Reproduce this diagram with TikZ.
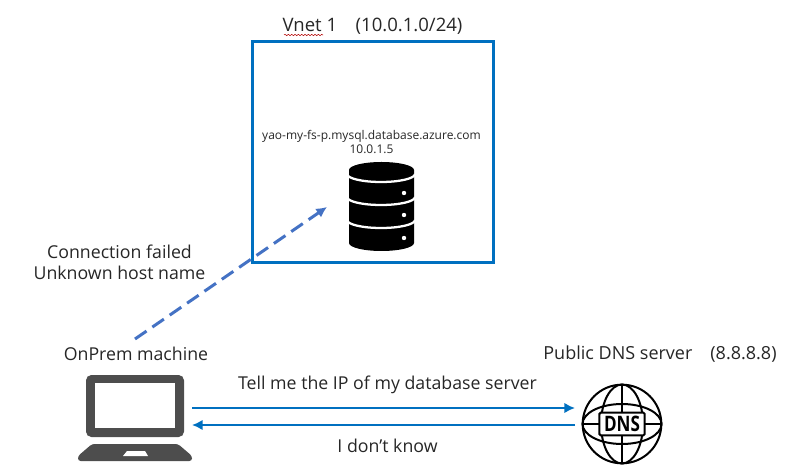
\documentclass[tikz,border=0pt]{standalone}
\usepackage{fontspec}
\setmainfont{Open Sans}
\usepackage{tikz}
\usetikzlibrary{arrows.meta,positioning,decorations.pathmorphing}
\definecolor{netblue}{HTML}{0070C0}
\definecolor{failblue}{HTML}{4472C4}
\definecolor{laptopgray}{HTML}{4D4D4D}
\tikzset{
  textlabel/.style={font=\fontsize{13.3}{15.6}\selectfont,text=black!85,align=center,inner sep=0pt},
  smalltext/.style={font=\fontsize{9}{10.5}\selectfont,text=black!85,align=center,inner sep=0pt},
  arrow/.style={-{Latex[length=8pt,width=8pt]},line width=2pt,netblue},
  failarrow/.style={-{Latex[length=8pt,width=8pt]},line width=2.25pt,failblue,dash pattern=on 10.5pt off 5.3pt},
  globe/.style={line width=1.5pt,black}
}

\begin{document}
\begin{tikzpicture}[x=0.75pt,y=-0.75pt]
  \useasboundingbox (0,0) rectangle (787,473);

  % Vnet
  \node[draw=netblue,line width=2.25pt,minimum width=180.75pt,minimum height=165.75pt,inner sep=0pt] (vnet) at (372.5,152.5) {};
  \node[textlabel,font=\fontsize{13.9}{15.6}\selectfont] (vnettitle) at (372.5,26) {Vnet 1\quad (10.0.1.0/24)};
  \draw[red!70!black,line width=0.4pt,decorate,decoration={snake,amplitude=0.5pt,segment length=2.5pt}] (284,35) -- (323,35);
  \node[smalltext] (dbname) at (371.5,142) {yao-my-fs-p.mysql.database.azure.com\\10.0.1.5};

  % Database icon
  \fill[black] (349,170) arc[x radius=32.5,y radius=8,start angle=180,end angle=360] -- (414,243) arc[x radius=32.5,y radius=8,start angle=0,end angle=180] -- cycle;
  \foreach \y in {174,197,220}
    \draw[white,line width=1.7pt] (347,\y) arc[x radius=34,y radius=8,start angle=180,end angle=0];
  \foreach \y in {193,215,238}
    \fill[white] (404,\y) circle[radius=2.2];

  % Laptop
  \node[textlabel] (onprem) at (136,354) {OnPrem machine};
  \fill[laptopgray,rounded corners=4pt] (86,375) rectangle (184,437);
  \fill[white] (95,383) rectangle (175,428);
  \fill[laptopgray,rounded corners=2pt] (92,444) -- (178,444) -- (192,456) -- (192,461) -- (78,461) -- (78,456) -- cycle;
  \fill[white] (127,451) -- (145,451) -- (148,456) -- (123,456) -- cycle;

  % DNS globe
  \node[textlabel,font=\fontsize{13.5}{15.6}\selectfont] (dnstitle) at (660,354) {Public DNS server\quad (8.8.8.8)};
  \node[circle,globe,draw,minimum size=59pt,inner sep=0pt] (dns) at (622,424) {};
  \draw[globe] (dns.north) -- (dns.south) (dns.west) -- (dns.east);
  \draw[globe] (dns.center) ellipse[x radius=21,y radius=39.5];
  \draw[globe] (dns.center) ellipse[x radius=39.5,y radius=20];
  \node[draw=black,fill=white,line width=1.5pt,rounded corners=1pt,minimum width=34pt,minimum height=17pt,inner sep=0pt,font=\fontsize{16}{16}\selectfont\bfseries] (dnsbox) at (dns.center) {\scalebox{0.8}[1]{DNS}};

  % Connectors
  \coordinate (sendstart) at (192,408);
  \coordinate (sendend) at (575,408);
  \coordinate (replystart) at (575,425);
  \coordinate (replyend) at (192,425);
  \coordinate (failstart) at (135,339);
  \coordinate (failend) at (327,207);
  \draw[arrow] (sendstart) -- (sendend);
  \draw[arrow] (replystart) -- (replyend);
  \draw[failarrow] (failstart) -- (failend);

  % Labels
  \node[textlabel] (asktext) at (387.5,385) {Tell me the IP of my database server};
  \node[textlabel] (replytext) at (387.5,446) {I don’t know};
  \node[textlabel] (failtext) at (119.5,262.5) {Connection failed\\Unknown host name};
\end{tikzpicture}
\end{document}
